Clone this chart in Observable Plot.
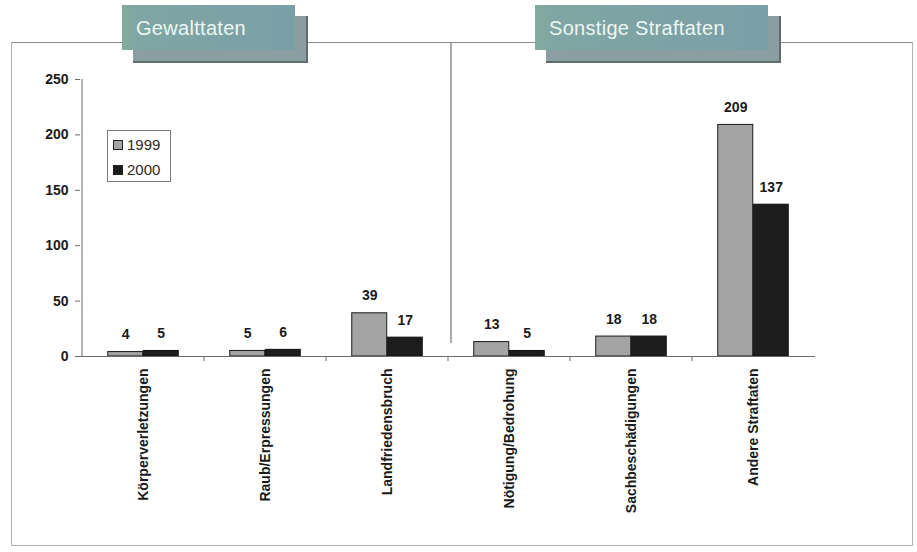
<!DOCTYPE html>
<html>
<head>
<meta charset="utf-8">
<script src="https://cdn.jsdelivr.net/npm/d3@7"></script>
<script src="https://cdn.jsdelivr.net/npm/@observablehq/plot@0.6"></script>
<style>
  body { margin: 0; background: #fff; }
  #chart { position: relative; width: 917px; height: 552px; font-family: "Liberation Sans", Arial, sans-serif; }
  #chart svg { position: absolute; left: 0; top: 0; }
  .frame { position: absolute; left: 11px; top: 42px; width: 900px; height: 502px;
           border: 1px solid #b4b4b4; border-top-color: #8c8c8c; pointer-events: none; }
  .tab-back { position: absolute; height: 45px; background: #8b9fa3;
              border-right: 2px solid #5f6c6e; border-bottom: 2px solid #5f6c6e; }
  .tab-front { position: absolute; height: 45px;
               background: linear-gradient(90deg, #83ab9c 0%, #7fa6a4 8%, #7b9fa7 100%); }
  .tab-front span { position: absolute; left: 14px; top: 12px; font-size: 20px; color: #edf7f2;
                    white-space: nowrap; letter-spacing: 0.3px; }
  .legend { position: absolute; left: 107px; top: 130px; width: 62px; height: 50px;
            border: 1px solid #7a7a7a; background: #fff; font-size: 15px; color: #2a2a2a; }
  .legend div { position: absolute; left: 5px; height: 18px; line-height: 18px; }
  .legend i { display: inline-block; width: 8px; height: 8px; border: 1px solid #222; margin-right: 4px; vertical-align: 0px; }
</style>
</head>
<body>
<div id="chart"></div>
<script>
// Delikte nach Art, Vergleich 1999 / 2000
const categories = ["Körperverletzungen", "Raub/Erpressungen", "Landfriedensbruch",
                    "Nötigung/Bedrohung", "Sachbeschädigungen", "Andere Straftaten"];
const values1999 = [4, 5, 39, 13, 18, 209];
const values2000 = [5, 6, 17, 5, 18, 137];
const years = ["1999", "2000"];
const yTicks = [0, 50, 100, 150, 200, 250];
const groupTitles = ["Gewalttaten", "Sonstige Straftaten"];
// index of the first category of the second group
const groupSplit = 3;

const rows1999 = categories.map((c, i) => ({cat: c, year: years[0], value: values1999[i]}));
const rows2000 = categories.map((c, i) => ({cat: c, year: years[1], value: values2000[i]}));

const W = 917, H = 552;
const mLeft = 80, mRight = 102, mTop = 79, mBottom = 196;
const half = (W - mLeft - mRight) / categories.length / 2;   // half a category band
const barW = 35.5;
const fill1999 = "#a4a4a4", fill2000 = "#1d1d1d";

// axis line, tick marks between categories and the group divider
const decorations = (index, scales, values, dims) => {
  const x = scales.x, y = scales.y;
  const g = d3.create("svg:g").attr("fill", "none").attr("stroke", "#6a6a6a");
  const left = x(categories[0]);
  g.append("line").attr("x1", left).attr("x2", left).attr("y1", y(0)).attr("y2", y(250));
  for (const c of categories.slice(1)) {
    const xc = x(c);
    g.append("line").attr("x1", xc).attr("x2", xc).attr("y1", y(0)).attr("y2", y(0) + 5);
  }
  const xd = x(categories[groupSplit]) + 3;
  g.append("line").attr("x1", xd).attr("x2", xd).attr("y1", 42).attr("y2", y(0) - 13)
    .attr("stroke", "#555");
  return g.node();
};

const valueLabel = {
  y: "value", text: d => String(d.value), lineAnchor: "bottom", dy: -13,
  fontSize: 14, fontWeight: "bold", fill: "#1a1a1a"
};

const chart = Plot.plot({
  width: W, height: H,
  marginLeft: mLeft, marginRight: mRight, marginTop: mTop, marginBottom: mBottom,
  style: {fontFamily: "'Liberation Sans', Arial, sans-serif", background: "transparent", color: "#1a1a1a"},
  x: {domain: categories, padding: 0},
  y: {domain: [0, 250]},
  marks: [
    Plot.barY(rows1999, {x: "cat", y: "value", fill: fill1999, stroke: "#1a1a1a", strokeWidth: 1,
                         insetLeft: half - barW, insetRight: half}),
    Plot.barY(rows2000, {x: "cat", y: "value", fill: fill2000, stroke: "#111", strokeWidth: 1,
                         insetLeft: half, insetRight: half - barW}),
    Plot.ruleY([0], {stroke: "#6a6a6a"}),
    decorations,
    Plot.text(rows1999, {x: "cat", dx: -barW / 2, ...valueLabel}),
    Plot.text(rows2000, {x: "cat", dx: barW / 2, ...valueLabel}),
    Plot.axisY({ticks: yTicks, tickSize: 5, tickPadding: 7, fontSize: 14, fontWeight: "bold",
                label: null, stroke: "#6a6a6a"}),
    Plot.axisX({tickSize: 0, tickPadding: 12, tickRotate: -90, fontSize: 14, fontWeight: "bold",
                label: null})
  ]
});

const root = document.getElementById("chart");
root.appendChild(chart);

const frame = document.createElement("div");
frame.className = "frame";
root.appendChild(frame);

// group title tabs
const tabs = [
  {title: groupTitles[0], left: 122, width: 173},
  {title: groupTitles[1], left: 535, width: 233}
];
for (const t of tabs) {
  const back = document.createElement("div");
  back.className = "tab-back";
  Object.assign(back.style, {left: (t.left + 11) + "px", top: "16px", width: t.width + "px"});
  root.appendChild(back);
  const front = document.createElement("div");
  front.className = "tab-front";
  Object.assign(front.style, {left: t.left + "px", top: "5px", width: t.width + "px"});
  const s = document.createElement("span");
  s.textContent = t.title;
  front.appendChild(s);
  root.appendChild(front);
}

// legend
const legend = document.createElement("div");
legend.className = "legend";
[[years[0], fill1999], [years[1], fill2000]].forEach(([label, color], i) => {
  const row = document.createElement("div");
  row.style.top = (5 + i * 25) + "px";
  const sw = document.createElement("i");
  sw.style.background = color;
  row.appendChild(sw);
  row.appendChild(document.createTextNode(label));
  legend.appendChild(row);
});
root.appendChild(legend);
</script>
</body>
</html>
